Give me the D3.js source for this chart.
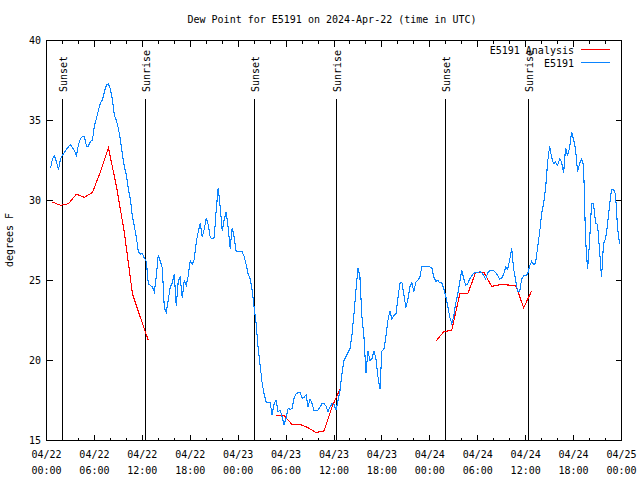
<!DOCTYPE html>
<html><head><meta charset="utf-8">
<script src="https://cdn.jsdelivr.net/npm/d3@7"></script>
<style>
body{margin:0;background:#fff}
svg text{font-family:"DejaVu Sans Mono","Liberation Mono",monospace;font-size:10px;fill:#000}
</style></head><body>
<svg id="c" width="640" height="480"></svg>
<script>
const titleText = "Dew Point for E5191 on 2024-Apr-22 (time in UTC)";
const yLabel = "degrees F";
const legendNames = ["E5191 Analysis", "E5191"];
const xDomain = ["2024-04-22T00:00:00Z", "2024-04-25T00:00:00Z"];
const yDomain = [15, 40];
const yTicks = [15, 20, 25, 30, 35, 40];

// station observations, every 15 minutes starting 00:30 UTC
const obsStart = "2024-04-22T00:30:00Z";
const obsStepMinutes = 15;
const obsValues = [
  32.0, 32.6, 32.8, 32.4, 31.9, 32.6, 32.85, 33.0,
  33.2, 33.35, 33.5, 33.3, 33.1, 32.8, 33.5, 33.85,
  34.0, 34.0, 33.4, 33.4, 33.7, 33.75, 34.7, 35.1,
  35.65, 36.1, 36.3, 36.8, 37.2, 37.3, 36.95, 36.3,
  35.3, 35.0, 34.5, 33.8, 32.9, 32.1, 31.6, 30.7,
  30.1, 29.0, 28.4, 27.7, 26.8, 26.65, 26.7, 26.4,
  26.2, 24.8, 24.7, 24.6, 24.3, 25.3, 26.6, 26.2,
  25.8, 23.3, 23.0, 23.8, 24.6, 24.85, 25.4, 23.4,
  25.0, 25.2, 23.9, 25.0, 24.7, 25.3, 26.25, 26.0,
  26.3, 27.4, 28.05, 28.6, 27.7, 28.2, 28.9, 28.5,
  27.7, 27.6, 27.7, 29.4, 30.8, 29.6, 28.1, 28.8,
  29.3, 28.3, 27.0, 28.3, 27.7, 26.8, 26.8, 26.8,
  26.8, 26.5, 26.0, 25.4, 25.1, 24.4, 23.3, 22.3,
  20.8, 19.7, 18.6, 17.9, 17.4, 17.4, 17.4, 16.6,
  17.3, 17.5, 16.8, 16.9, 16.5, 16.0, 16.4, 17.0,
  16.95, 17.0, 17.65, 17.9, 18.0, 18.0, 17.65, 17.7,
  17.85, 17.1, 17.6, 17.3, 16.85, 16.9, 16.9, 17.1,
  17.3, 17.3, 17.15, 16.8, 17.1, 17.3, 17.25, 16.9,
  17.5, 18.1, 19.2, 20.0, 20.25, 20.5, 20.75, 21.6,
  22.9, 24.4, 25.8, 25.2, 22.7, 21.5, 19.2, 20.6,
  20.0, 20.1, 20.6, 20.1, 19.0, 18.2, 20.6, 20.7,
  21.5, 22.5, 23.1, 22.6, 22.8, 22.9, 23.9, 24.8,
  24.9, 24.1, 23.3, 23.8, 24.6, 24.85, 24.3, 24.9,
  25.0, 25.2, 25.85, 25.9, 25.9, 25.9, 25.85, 25.8,
  25.2, 24.95, 25.0, 24.85, 24.85, 24.5, 24.0, 23.4,
  22.7, 22.3, 22.8, 23.6, 24.15, 24.9, 25.65, 25.1,
  24.7, 24.8, 25.1, 25.3, 25.45, 25.5, 25.5, 25.55,
  25.5, 25.3, 25.1, 25.5, 25.6, 25.6, 25.6, 25.5,
  25.3, 25.1, 25.15, 25.4, 25.85, 25.7, 26.3, 27.0,
  25.7, 25.0, 24.3, 24.3, 25.1, 25.3, 25.3, 25.4,
  25.9, 26.2, 26.0, 26.1, 27.1, 28.0, 29.2, 29.8,
  30.8, 32.4, 33.4, 32.7, 32.3, 32.4, 32.2, 32.6,
  32.4, 31.7, 33.3, 32.8, 33.3, 34.3, 33.8, 33.2,
  31.8, 32.3, 32.6, 32.2, 27.6, 25.7, 27.4, 29.8,
  29.8, 28.6, 28.5, 26.9, 25.2, 27.3, 27.6, 28.5,
  29.7, 30.7, 30.7, 30.4, 28.3, 27.3
];

// hourly analysis segments
const analysisStarts = ["2024-04-22T00:45:00Z", "2024-04-23T04:45:00Z", "2024-04-24T00:45:00Z"];
const analysisA = [29.9, 29.7, 29.8, 30.4, 30.2, 30.5, 31.8, 33.3, 30.9, 28.0, 24.2, 22.7, 21.25];
const analysisB = [16.56, 16.56, 16.0, 16.0, 15.8, 15.5, 15.6, 17.1, 18.2];
const analysisC = [21.2, 21.8, 21.9, 24.17, 24.17, 25.52, 25.52, 24.63, 24.73, 24.72, 24.69, 23.3, 24.35];

const sunLabels = ["Sunset", "Sunrise", "Sunset", "Sunrise", "Sunset", "Sunrise"];
const sunTimes = ["2024-04-22T02:00:00Z", "2024-04-22T12:25:00Z", "2024-04-23T02:02:00Z",
                  "2024-04-23T12:18:00Z", "2024-04-24T01:58:00Z", "2024-04-24T12:18:00Z"];

const colorAnalysis = "#ff0000";
const colorObs = "#0a84ff";

const svg = d3.select("#c");
const L = 46.5, R = 621.5, T = 40.5, B = 440.5;
const x = d3.scaleUtc().domain(xDomain.map(d3.isoParse)).range([L, R]);
const y = d3.scaleLinear().domain(yDomain).range([B, T]);

// title
svg.append("text").attr("x", 332).attr("y", 23).attr("text-anchor", "middle").text(titleText);
// y label
svg.append("text").attr("transform", "translate(13,240) rotate(-90)").attr("text-anchor", "middle").text(yLabel);

// ticks
const tickG = svg.append("g").attr("stroke", "#000").attr("stroke-width", 1).attr("shape-rendering", "crispEdges");
const minor = d3.utcHour.every(2).range(x.domain()[0], d3.utcHour.offset(x.domain()[1], 1));
minor.forEach(t => {
  const major = t.getUTCHours() % 6 === 0;
  const len = major ? 6 : 3;
  const px = Math.round(x(t) - 0.5) + 0.5;
  tickG.append("line").attr("x1", px).attr("x2", px).attr("y1", B).attr("y2", B - len);
  tickG.append("line").attr("x1", px).attr("x2", px).attr("y1", T).attr("y2", T + len);
});
yTicks.forEach(v => {
  const py = Math.round(y(v) - 0.5) + 0.5;
  tickG.append("line").attr("x1", L).attr("x2", L + 6).attr("y1", py).attr("y2", py);
  tickG.append("line").attr("x1", R).attr("x2", R - 6).attr("y1", py).attr("y2", py);
  svg.append("text").attr("x", 41).attr("y", py + 3.5).attr("text-anchor", "end").text(v);
});
d3.utcHour.every(6).range(x.domain()[0], d3.utcHour.offset(x.domain()[1], 1)).forEach(t => {
  const g = svg.append("text").attr("text-anchor", "middle");
  g.append("tspan").attr("x", x(t)).attr("y", 458).text(d3.utcFormat("%m/%d")(t));
  g.append("tspan").attr("x", x(t)).attr("y", 474).text(d3.utcFormat("%H:%M")(t));
});

// sun events
sunTimes.forEach((s, i) => {
  const t = d3.isoParse(s);
  const px = Math.round(x(t) - 0.5) + 0.5;
  svg.append("line").attr("x1", px).attr("x2", px).attr("y1", 99).attr("y2", B)
    .attr("stroke", "#000").attr("shape-rendering", "crispEdges");
  svg.append("text").attr("transform", `translate(${px + 4.5},92) rotate(-90)`)
    .attr("text-anchor", "start").text(sunLabels[i]);
});

const line = d3.line().x(d => x(d.t)).y(d => y(d.v));

// analysis
[analysisA, analysisB, analysisC].forEach((arr, k) => {
  const s = d3.isoParse(analysisStarts[k]);
  const data = arr.map((v, i) => ({t: d3.utcHour.offset(s, i), v}));
  svg.append("path").datum(data).attr("d", line).attr("fill", "none")
    .attr("stroke", colorAnalysis).attr("stroke-width", 1.1).attr("shape-rendering", "crispEdges");
});

// observations
const o0 = d3.isoParse(obsStart);
const obs = obsValues.map((v, i) => ({t: d3.utcMinute.offset(o0, i * obsStepMinutes), v}));
svg.append("path").datum(obs).attr("d", line).attr("fill", "none")
  .attr("stroke", colorObs).attr("stroke-width", 1.1).attr("shape-rendering", "crispEdges");

// frame
svg.append("rect").attr("x", L).attr("y", T).attr("width", R - L).attr("height", B - T)
  .attr("fill", "none").attr("stroke", "#000").attr("shape-rendering", "crispEdges");

// legend
const legColors = [colorAnalysis, colorObs];
legendNames.forEach((n, i) => {
  const ly = 49.5 + i * 13;
  svg.append("text").attr("x", 574).attr("y", ly + 4).attr("text-anchor", "end").text(n);
  svg.append("line").attr("x1", 581).attr("x2", 610).attr("y1", ly).attr("y2", ly)
    .attr("stroke", legColors[i]).attr("shape-rendering", "crispEdges");
});
</script>
</body></html>
